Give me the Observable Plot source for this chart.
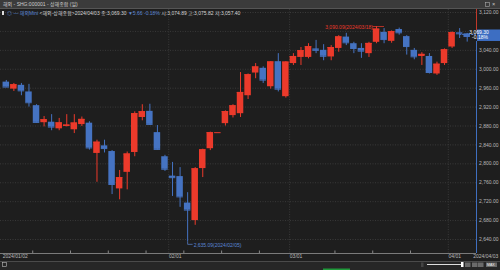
<!DOCTYPE html>
<html><head><meta charset="utf-8">
<script src="https://cdn.jsdelivr.net/npm/d3@7"></script>
<script src="https://cdn.jsdelivr.net/npm/@observablehq/plot@0.6"></script>
<style>
html,body{margin:0;padding:0;background:#1e1e1e;width:500px;height:270px;overflow:hidden;}
#wrap{position:relative;width:500px;height:270px;font-family:"Noto Sans CJK KR","Noto Sans",sans-serif;}
#title,#footer,#info{display:block}
#info{position:absolute;left:0;top:9px;z-index:2}
#chart{height:252px}
#chart svg{display:block}
</style>
</head><body>
<div id="wrap">
  <svg id="title" width="500" height="9"></svg>
  <svg id="info" width="300" height="9"></svg>
  <div id="chart"></div>
  <svg id="footer" width="500" height="9"></svg>
</div>
<script>
// ---- data ----
const titleText = "해외 - SHG:000001 - 상해종합 (일)";
const infoParts = [
  ["◎ — 해외Mini ", "blue"],
  ["<해외-상해종합>2024/04/03 종:3,069.30 ", "text"],
  ["▼5.66 ", "blue"],
  ["-0.18% ", "blue"],
  ["시:3,074.89 고:3,075.82 저:3,057.40", "text"]
];
const dates = ["2024/01/02","2024/01/03","2024/01/04","2024/01/05","2024/01/08","2024/01/09","2024/01/10","2024/01/11","2024/01/12","2024/01/15","2024/01/16","2024/01/17","2024/01/18","2024/01/19","2024/01/22","2024/01/23","2024/01/24","2024/01/25","2024/01/26","2024/01/29","2024/01/30","2024/01/31","2024/02/01","2024/02/02","2024/02/05","2024/02/06","2024/02/07","2024/02/08","2024/02/09","2024/02/19","2024/02/20","2024/02/21","2024/02/22","2024/02/23","2024/02/26","2024/02/27","2024/02/28","2024/02/29","2024/03/01","2024/03/04","2024/03/05","2024/03/06","2024/03/07","2024/03/08","2024/03/11","2024/03/12","2024/03/13","2024/03/14","2024/03/15","2024/03/18","2024/03/19","2024/03/20","2024/03/21","2024/03/22","2024/03/25","2024/03/26","2024/03/27","2024/03/28","2024/03/29","2024/04/01","2024/04/02","2024/04/03"];
const opens  = [2972.78,2958,2966,2952,2923,2887,2888,2874,2879,2872,2883,2886,2822,2838,2826,2747,2782,2824,2898,2911,2866,2815,2774,2773,2717,2680,2790,2832,2865.90,2885,2902,2906,2944,2992,3002,2963,3016,2942,3012,3025,3025,3043,3040,3026,3044,3068,3054,3044,3033,3057,3078,3059,3084,3069,3040,3027,3027,2990,3012,3047,3077,3074.89];
const highs  = [2976.27,2970,2970,2968,2925,2900,2904,2896,2904,2904,2899,2889,2850,2850,2828,2786,2825,2910,2925,2926,2881,2818,2803,2792,2739,2792,2831,2867,2865.90,2912,2925,2993,2990,3012,3005,3016,3033,3016,3033,3046,3054,3061,3052,3050,3071,3076,3057,3054,3057,3090.09,3086,3081,3087,3071,3044,3035,3033,3015,3043,3079,3086,3075.82];
const lows   = [2962.28,2953,2944,2920,2886,2878,2870,2870,2878,2864,2879,2829,2761,2823,2735,2724,2745,2815,2891,2881,2829,2784,2731,2708,2635.09,2670,2771,2828,2865.90,2880,2897,2898,2936,2980,2970,2958,2952,2939,3008,3008,3022,3033,3018,3018,3036,3050,3033,3023,3025,3054,3054,3055,3072,3030,3020,3008,2990,2987,3008,3044,3065,3057.40];
const closes = [2962.28,2967.25,2954.35,2929.18,2887.54,2893.25,2877.70,2886.65,2881.98,2886.29,2893.99,2833.62,2845.78,2832.28,2756.34,2770.74,2820.77,2906.11,2910.22,2883.36,2830.53,2788.55,2770.74,2730.15,2702.19,2789.49,2829.70,2865.90,2865.90,2910.54,2922.73,2950.96,2988.36,3004.88,2977.02,3015.48,2957.85,3015.17,3027.02,3039.31,3047.79,3040.00,3027.40,3046.02,3068.46,3055.94,3043.83,3038.23,3054.64,3084.93,3062.76,3079.69,3077.11,3048.03,3026.31,3031.48,2993.14,3010.66,3041.17,3077.38,3074.96,3069.30];
const gridTicks = [2640,2680,2720,2760,2800,2840,2880,2920,2960,3000,3040,3080,3120];
const labelTicks = [2640,2680,2720,2760,2800,2840,2880,2920,2960,3000,3040,3120];
const monthStarts = ["2024/02/01","2024/03/01","2024/04/01"];
const xLabels = [["2024/01/02","2024/01/02"],["2024/02/01","02/01"],["2024/03/01","03/01"],["2024/04/01","04/01"]];
const endLabel = "2024/04/03";
const weekTicks = ["2024/01/08","2024/01/15","2024/01/22","2024/01/29","2024/02/05","2024/02/19","2024/02/26","2024/03/11","2024/03/18","2024/03/25"];
const changePct = "-0.18%";

// ---- colours ----
const UP = "#ec3a2b", DOWN = "#4573c2", TXT = "#b9b9b9", GRID = "#3a3a3a";
const FONT = "'Liberation Sans', 'Noto Sans CJK KR', sans-serif";

// ---- header ----
const title = d3.select("#title");
title.append("rect").attr("width",500).attr("height",8).attr("fill","#3b3b3b");
title.append("line").attr("x1",0).attr("x2",500).attr("y1",8.5).attr("y2",8.5).attr("stroke","#555");
title.append("text").attr("x",3).attr("y",6).attr("fill","#cfcfcf").attr("font-size",5).attr("font-family",FONT).text(titleText);
title.append("rect").attr("x",485.5).attr("y",2.5).attr("width",4).attr("height",4).attr("fill","none").attr("stroke","#aaa").attr("stroke-width",0.6);
title.append("text").attr("x",492).attr("y",6.3).attr("fill","#ccc").attr("font-size",5.5).attr("font-family",FONT).text("×");

const info = d3.select("#info");
info.append("rect").attr("x",2).attr("y",2).attr("width",2).attr("height",4).attr("fill","#ddd");
const it = info.append("text").attr("x",7).attr("y",6).attr("font-size",5).attr("font-family",FONT).attr("xml:space","preserve");
infoParts.forEach(([t,c]) => it.append("tspan").attr("fill", c==="blue" ? "#5b86d6" : "#d4d4d4").text(t));

// ---- chart ----
const candles = dates.map((d,i)=>({date:d, open:opens[i], high:highs[i], low:lows[i], close:closes[i]}));
const col = d => d.close >= d.open ? UP : DOWN;
const hiIdx = d3.maxIndex(highs), loIdx = d3.minIndex(lows);
const hi = candles[hiIdx], lo = candles[loIdx];
const fmt2 = d3.format(",.2f");

const chart = Plot.plot({
  width: 500, height: 252,
  marginLeft: 0, marginRight: 24, marginTop: 0, marginBottom: 8,
  style: {background: "transparent", color: TXT, fontSize: "5px", fontFamily: FONT, overflow: "visible"},
  x: {type: "band", domain: dates, range: [1.5, 471], padding: 0.14, axis: null},
  y: {domain: [2640, 3120], range: [230, 3], axis: "right", ticks: labelTicks, tickFormat: fmt2, tickSize: 0, tickPadding: 2.5, label: null},
  marks: [
    Plot.ruleY(gridTicks, {stroke: GRID, strokeDasharray: "1,1.5"}),
    Plot.ruleX(monthStarts, {x: d => d, dx: -3.8, stroke: GRID, strokeDasharray: "1,1.5"}),
    Plot.ruleX(weekTicks, {x: d => d, dx: -3.8, stroke: "#888", insetTop: 241.5}),
    Plot.ruleX(candles, {x: "date", y1: "low", y2: "high", stroke: col, strokeWidth: 1}),
    Plot.barY(candles, {x: "date", y1: "open", y2: "close", fill: col}),
    Plot.tickY(candles, {x: "date", y: "close", stroke: col}),
    Plot.text([hi], {x: "date", y: "high", text: d => `${fmt2(d.high)}(${d.date})`, textAnchor: "end", dx: -3.5, dy: 0.5, fill: UP, fontSize: 5}),
    Plot.text([lo], {x: "date", y: "low", text: d => `${fmt2(d.low)}(${d.date})`, textAnchor: "start", dx: 6, dy: 3.5, fill: "#5b86d6", fontSize: 5}),
    Plot.text(xLabels, {x: d => d[0], text: d => d[1], frameAnchor: "bottom", dy: 4, dx: -3.6, textAnchor: "start", fill: TXT, fontSize: 5}),
    Plot.text([endLabel], {x: d => d, text: d => d, frameAnchor: "bottom", dy: 4, dx: 6, textAnchor: "start", fill: TXT, fontSize: 5})
  ]
});
document.getElementById("chart").appendChild(chart);

// decorations drawn with the plot's own scales
const xs = chart.scale("x"), ys = chart.scale("y");
const bw = xs.bandwidth;
const cx = d => xs.apply(d) + bw/2;
const svg = d3.select(chart);
const H = 252 - 8, R = 476;
svg.append("line").attr("x1",0).attr("x2",R).attr("y1",H+0.5).attr("y2",H+0.5).attr("stroke","#7a7a7a");
const yh = Math.round(ys.apply(hi.high)) + 0.5;
svg.append("line").attr("x1",cx(hi.date)-3.5).attr("x2",cx(hi.date)+8).attr("y1",yh).attr("y2",yh).attr("stroke",UP).attr("stroke-width",0.7);
const yl = ys.apply(lo.low);
svg.append("path").attr("d",`M${cx(lo.date)+0.5},${yl}V${yl+3}H${cx(lo.date)+5.5}`).attr("fill","none").attr("stroke","#5b86d6").attr("stroke-width",0.7);
const last = candles[candles.length-1];
const yc = ys.apply(last.close);
svg.append("line").attr("x1",cx(dates[dates.length-2])).attr("x2",R).attr("y1",yc-1.5).attr("y2",yc-1.5).attr("stroke",DOWN).attr("stroke-dasharray","2,1");
svg.append("line").attr("x1",R+0.5).attr("x2",R+0.5).attr("y1",0).attr("y2",yc-6).attr("stroke","#c0392b");
svg.append("line").attr("x1",R+0.5).attr("x2",R+0.5).attr("y1",yc+5).attr("y2",H).attr("stroke","#3f6fc0");
svg.append("rect").attr("x",R+1).attr("y",yc-6.5).attr("width",24).attr("height",11.5).attr("fill","#3d6ec2");
svg.append("text").attr("x",R+3).attr("y",yc-2.2).attr("fill","#fff").attr("font-size",5).attr("font-family",FONT).text(fmt2(last.close));
svg.append("text").attr("x",R+4).attr("y",yc+3.3).attr("fill","#fff").attr("font-size",5).attr("font-family",FONT).text(changePct);

// ---- footer (scroll bar) ----
const ft = d3.select("#footer");
ft.append("rect").attr("width",500).attr("height",9).attr("fill","#262626");
ft.append("line").attr("x1",0).attr("x2",500).attr("y1",0.5).attr("y2",0.5).attr("stroke","#4a4a4a");
ft.append("rect").attr("x",2.5).attr("y",1.5).attr("width",4).attr("height",4).attr("fill","none").attr("stroke","#bbb").attr("stroke-width",0.6);
ft.append("rect").attr("x",421).attr("y",1.5).attr("width",2.5).attr("height",4.5).attr("fill","#444");
ft.append("line").attr("x1",427).attr("x2",462).attr("y1",3.5).attr("y2",3.5).attr("stroke","#ddd");
ft.append("rect").attr("x",461).attr("y",1).attr("width",2.5).attr("height",5).attr("fill","#fff");
[465,472,478].forEach(x => ft.append("rect").attr("x",x).attr("y",1.5).attr("width",5.5).attr("height",4.5).attr("fill","#6a6a6a"));
ft.append("rect").attr("x",486).attr("y",1.5).attr("width",11).attr("height",4.5).attr("fill","#6a6a6a");
ft.append("text").attr("x",487).attr("y",5).attr("fill","#eee").attr("font-size",3.5).attr("font-family",FONT).text("MAX");
ft.append("rect").attr("x",323).attr("y",7.5).attr("width",27).attr("height",1.5).attr("fill","#1f9a3a");
</script>
</body></html>
